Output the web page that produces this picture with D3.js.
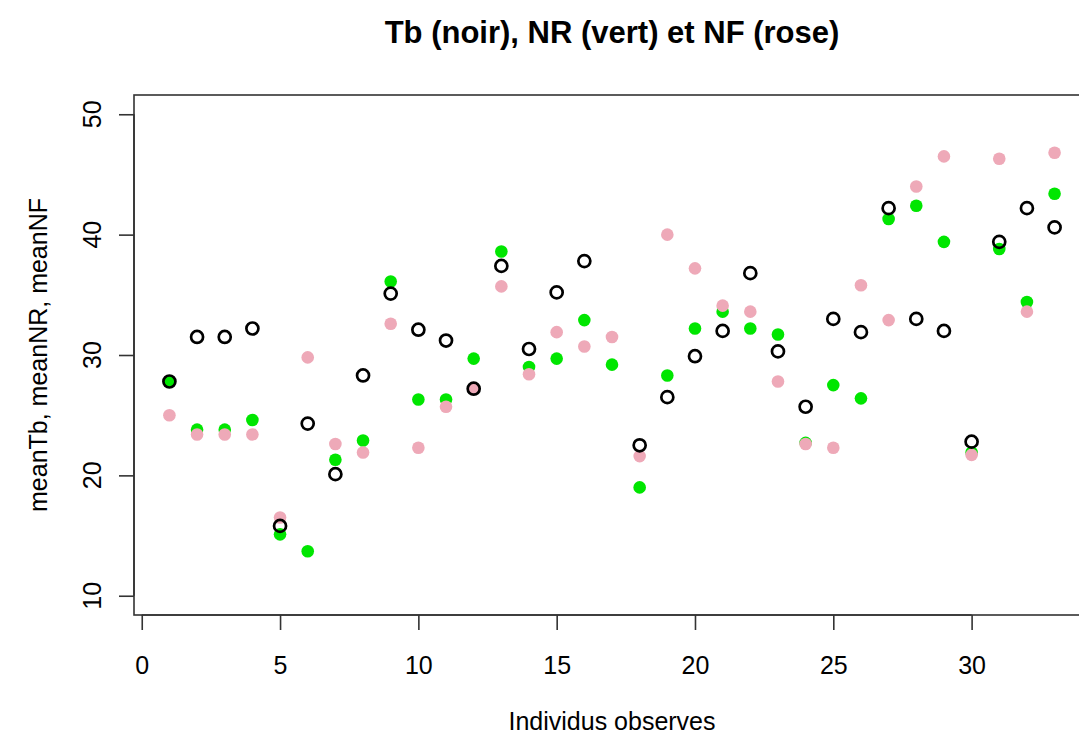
<!DOCTYPE html>
<html>
<head>
<meta charset="utf-8">
<script src="https://cdn.jsdelivr.net/npm/d3@7"></script>
<style>
  body { margin: 0; background: #fff; }
  text { font-family: "Liberation Sans", Arial, Helvetica, sans-serif; }
</style>
</head>
<body>
<script>
// individus 1..33, valeurs (Tb manquant pour l'individu 17)
var individus = d3.range(1, 34);
var meanTb = [27.8, 31.5, 31.5, 32.2, 15.8, 24.3, 20.1, 28.3, 35.1, 32.1, 31.2, 27.2, 37.4, 30.5, 35.2, 37.8, null,
              22.5, 26.5, 29.9, 32.0, 36.8, 30.3, 25.7, 33.0, 31.9, 42.2, 33.0, 32.0, 22.8, 39.4, 42.2, 40.6];
var meanNR = [27.8, 23.8, 23.8, 24.6, 15.1, 13.7, 21.3, 22.9, 36.1, 26.3, 26.3, 29.7, 38.6, 29.0, 29.7, 32.9, 29.2,
              19.0, 28.3, 32.2, 33.6, 32.2, 31.7, 22.7, 27.5, 26.4, 41.3, 42.4, 39.4, 21.9, 38.8, 34.4, 43.4];
var meanNF = [25.0, 23.4, 23.4, 23.4, 16.5, 29.8, 22.6, 21.9, 32.6, 22.3, 25.7, 27.2, 35.7, 28.4, 31.9, 30.7, 31.5,
              21.6, 40.0, 37.2, 34.1, 33.6, 27.8, 22.6, 22.3, 35.8, 32.9, 44.0, 46.5, 21.7, 46.3, 33.6, 46.8];

var xTicks = [0, 5, 10, 15, 20, 25, 30];
var yTicks = [10, 20, 30, 40, 50];

var titre = "Tb (noir), NR (vert) et NF (rose)";
var xTitre = "Individus observes";
var yTitre = "meanTb, meanNR, meanNF";

var width = 1079;
var height = 737;
var pLeft = 134, pRight = 1090, pTop = 95, pBottom = 615;

var svg = d3.select("body")
            .append("svg")
            .attr("width", width)
            .attr("height", height);

// limites comme R : xlim = range(1,33) +4%, ylim = c(10,50) +4%
var xScale = d3.scaleLinear()
               .domain([1 - 0.04 * 32, 33 + 0.04 * 32])
               .range([pLeft, pRight]);

var yScale = d3.scaleLinear()
               .domain([10 - 0.04 * 40, 50 + 0.04 * 40])
               .range([pBottom, pTop]);

// cadre
svg.append("rect")
   .attr("x", pLeft)
   .attr("y", pTop)
   .attr("width", pRight - pLeft)
   .attr("height", pBottom - pTop)
   .attr("fill", "none")
   .attr("stroke", "#333")
   .attr("stroke-width", 1.6);

// axe x
var xAxis = svg.append("g")
               .attr("transform", "translate(0," + pBottom + ")")
               .call(d3.axisBottom(xScale).tickValues(xTicks).tickSize(15).tickPadding(26));
xAxis.select(".domain").remove();
xAxis.append("line")
     .attr("x1", xScale(xTicks[0]))
     .attr("x2", xScale(xTicks[xTicks.length - 1]))
     .attr("stroke", "#333")
     .attr("stroke-width", 1.6);
xAxis.selectAll(".tick line").attr("stroke", "#333").attr("stroke-width", 1.6);
xAxis.selectAll("text")
     .attr("fill", "#000")
     .style("font-size", "25px")
     .style("font-family", "'Liberation Sans', Arial, sans-serif");

// axe y
var yAxis = svg.append("g")
               .attr("transform", "translate(" + pLeft + ",0)")
               .call(d3.axisLeft(yScale).tickValues(yTicks).tickSize(15).tickFormat(""));
yAxis.select(".domain").remove();
yAxis.append("line")
     .attr("y1", yScale(yTicks[0]))
     .attr("y2", yScale(yTicks[yTicks.length - 1]))
     .attr("stroke", "#333")
     .attr("stroke-width", 1.6);
yAxis.selectAll(".tick line").attr("stroke", "#333").attr("stroke-width", 1.6);

svg.selectAll(".ylab")
   .data(yTicks)
   .enter()
      .append("text")
      .attr("class", "ylab")
      .attr("transform", function(d) { return "translate(101," + yScale(d) + ") rotate(-90)"; })
      .attr("text-anchor", "middle")
      .style("font-size", "25px")
      .text(function(d) { return d; });

// titres
svg.append("text")
   .attr("x", (pLeft + pRight) / 2)
   .attr("y", 43)
   .attr("text-anchor", "middle")
   .style("font-size", "31px")
   .style("font-weight", "bold")
   .text(titre);

svg.append("text")
   .attr("x", (pLeft + pRight) / 2)
   .attr("y", 730)
   .attr("text-anchor", "middle")
   .style("font-size", "25px")
   .text(xTitre);

svg.append("text")
   .attr("transform", "translate(47," + (pTop + pBottom) / 2 + ") rotate(-90)")
   .attr("text-anchor", "middle")
   .style("font-size", "25px")
   .text(yTitre);

// points : vert, puis rose, puis noir par-dessus
var plot = svg.append("g");

plot.selectAll(".nr")
    .data(individus)
    .enter()
       .append("circle")
       .attr("class", "nr")
       .attr("cx", function(d) { return xScale(d); })
       .attr("cy", function(d, i) { return yScale(meanNR[i]); })
       .attr("r", 6.3)
       .attr("fill", "#00e600");

plot.selectAll(".nf")
    .data(individus)
    .enter()
       .append("circle")
       .attr("class", "nf")
       .attr("cx", function(d) { return xScale(d); })
       .attr("cy", function(d, i) { return yScale(meanNF[i]); })
       .attr("r", 6.3)
       .attr("fill", "#eea9b8");

plot.selectAll(".tb")
    .data(individus.filter(function(d, i) { return meanTb[i] != null; }))
    .enter()
       .append("circle")
       .attr("class", "tb")
       .attr("cx", function(d) { return xScale(d); })
       .attr("cy", function(d) { return yScale(meanTb[d - 1]); })
       .attr("r", 6)
       .attr("fill", "none")
       .attr("stroke", "#000")
       .attr("stroke-width", 2.7);
</script>
</body>
</html>
